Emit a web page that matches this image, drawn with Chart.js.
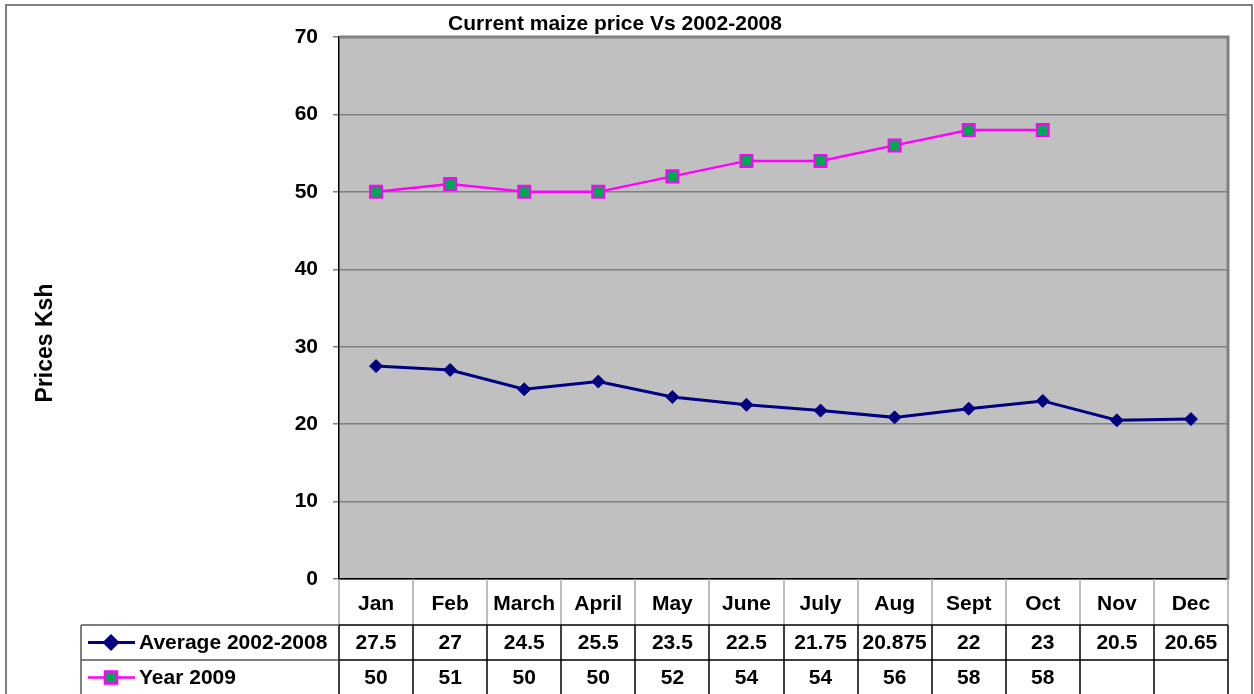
<!DOCTYPE html>
<html>
<head>
<meta charset="utf-8">
<title>Current maize price Vs 2002-2008</title>
<script src="https://cdn.jsdelivr.net/npm/chart.js@4/dist/chart.umd.min.js"></script>
<style>
  html, body { margin: 0; padding: 0; background: #fff; }
  canvas { display: block; }
</style>
</head>
<body>
<canvas id="maizeChart" width="1254" height="694"></canvas>
<script>
// data
const months = ['Jan', 'Feb', 'March', 'April', 'May', 'June', 'July', 'Aug', 'Sept', 'Oct', 'Nov', 'Dec'];
const avg0208 = [27.5, 27, 24.5, 25.5, 23.5, 22.5, 21.75, 20.875, 22, 23, 20.5, 20.65];
const year2009 = [50, 51, 50, 50, 52, 54, 54, 56, 58, 58, null, null];
const seriesNames = ['Average 2002-2008', 'Year 2009'];
const yMin = 0, yMax = 70, yStep = 10;

const chartTitle = 'Current maize price Vs 2002-2008';
const yTitle = 'Prices Ksh';

const FONT = '"Liberation Sans", Arial, sans-serif';
const NAVY = '#000080';
const MAGENTA = '#FF00FF';
const GREEN = '#00A651';

const seriesStyles = [
  { pointStyle: 'rectRot', radius: 6.5, borderWidth: 1, line: NAVY, fill: NAVY, stroke: NAVY, lineWidth: 3 },
  { pointStyle: 'rect', radius: 8.5, borderWidth: 2, line: MAGENTA, fill: GREEN, stroke: MAGENTA, lineWidth: 2.5 }
];

const tablePlugin = {
  id: 'dataTable',
  beforeDraw(chart) {
    const { ctx, chartArea: a } = chart;
    ctx.save();
    ctx.fillStyle = '#fff';
    ctx.fillRect(0, 0, chart.width, chart.height);
    // outer frame
    ctx.strokeStyle = '#808080';
    ctx.lineWidth = 2;
    ctx.strokeRect(6, 5, 1246, 700);
    // plot background
    ctx.fillStyle = '#C0C0C0';
    ctx.fillRect(a.left, a.top, a.right - a.left, a.bottom - a.top);
    ctx.restore();
  },
  beforeDatasetsDraw(chart) {
    const { ctx, chartArea: a } = chart;
    ctx.save();
    ctx.strokeStyle = '#808080';
    ctx.lineWidth = 3;
    ctx.beginPath();
    ctx.moveTo(a.left, a.top);
    ctx.lineTo(a.right, a.top);
    ctx.lineTo(a.right, a.bottom);
    ctx.stroke();
    ctx.restore();
  },
  afterDraw(chart) {
    const { ctx, chartArea: a } = chart;
    const xs = chart.scales.x;
    const colW = (a.right - a.left) / months.length;
    const headTop = a.bottom;
    const rowTop = xs.bottom;
    const rowH = 35;
    const legLeft = 81;

    ctx.save();
    // header row separators (light)
    ctx.strokeStyle = '#A8A8A8';
    ctx.lineWidth = 1.5;
    for (let i = 0; i <= months.length; i++) {
      const x = Math.round(a.left + i * colW);
      ctx.beginPath();
      ctx.moveTo(x, headTop);
      ctx.lineTo(x, rowTop);
      ctx.stroke();
    }
    // data rows grid
    ctx.strokeStyle = '#000';
    ctx.lineWidth = 1.5;
    for (let i = 0; i <= months.length; i++) {
      const x = Math.round(a.left + i * colW);
      ctx.beginPath();
      ctx.moveTo(x, rowTop);
      ctx.lineTo(x, rowTop + rowH * 2);
      ctx.stroke();
    }
    for (let r = 0; r <= 1; r++) {
      const y = rowTop + r * rowH;
      ctx.strokeStyle = '#000';
      ctx.beginPath();
      ctx.moveTo(a.left, y);
      ctx.lineTo(a.right, y);
      ctx.stroke();
      ctx.strokeStyle = '#555';
      ctx.beginPath();
      ctx.moveTo(legLeft, y);
      ctx.lineTo(a.left, y);
      ctx.stroke();
    }
    ctx.strokeStyle = '#555';
    ctx.beginPath();
    ctx.moveTo(legLeft, rowTop);
    ctx.lineTo(legLeft, rowTop + rowH * 2);
    ctx.stroke();

    // values
    ctx.fillStyle = '#000';
    ctx.font = 'bold 21px ' + FONT;
    ctx.textBaseline = 'middle';
    ctx.textAlign = 'center';
    chart.data.datasets.forEach((ds, r) => {
      const cy = rowTop + r * rowH + rowH / 2 + 1;
      ds.data.forEach((v, i) => {
        if (v === null) return;
        ctx.fillText(String(v), xs.getPixelForValue(i), cy);
      });
    });

    // legend keys and names
    seriesNames.forEach((name, r) => {
      const st = seriesStyles[r];
      const cy = rowTop + r * rowH + rowH / 2;
      ctx.strokeStyle = st.line;
      ctx.lineWidth = st.lineWidth;
      ctx.beginPath();
      ctx.moveTo(88, cy);
      ctx.lineTo(135, cy);
      ctx.stroke();
      ctx.fillStyle = st.fill;
      ctx.strokeStyle = st.stroke;
      Chart.helpers.drawPoint(ctx, { pointStyle: st.pointStyle, radius: st.radius, borderWidth: st.borderWidth, rotation: 0 }, 111, cy);
      ctx.fillStyle = '#000';
      ctx.textAlign = 'left';
      ctx.fillText(name, 139, cy + 1);
    });

    // chart title
    ctx.textAlign = 'center';
    ctx.font = 'bold 21px ' + FONT;
    ctx.fillText(chartTitle, 615, 24);

    // y axis title
    ctx.save();
    ctx.translate(46, 343);
    ctx.rotate(-Math.PI / 2);
    ctx.font = 'bold 23px ' + FONT;
    ctx.fillText(yTitle, 0, 0);
    ctx.restore();
    ctx.restore();
  }
};

const datasets = [avg0208, year2009].map((vals, i) => {
  const st = seriesStyles[i];
  return {
    label: seriesNames[i],
    data: vals,
    borderColor: st.line,
    borderWidth: st.lineWidth,
    pointStyle: st.pointStyle,
    pointRadius: st.radius,
    pointHoverRadius: st.radius,
    pointBackgroundColor: st.fill,
    pointBorderColor: st.stroke,
    pointBorderWidth: st.borderWidth,
    tension: 0,
    fill: false
  };
});

new Chart(document.getElementById('maizeChart'), {
  type: 'line',
  data: { labels: months, datasets: datasets },
  plugins: [tablePlugin],
  options: {
    responsive: false,
    animation: false,
    layout: { padding: { left: 6, top: 37, right: 26, bottom: 69 } },
    plugins: { legend: { display: false }, title: { display: false }, tooltip: { enabled: false } },
    scales: {
      x: {
        offset: true,
        grid: { display: false },
        border: { display: true, color: '#000', width: 1.5 },
        ticks: { color: '#000', font: { family: FONT, size: 21, weight: 'bold' }, padding: 5, autoSkip: false, maxRotation: 0 },
        afterFit(s) { s.height = 46; }
      },
      y: {
        min: yMin,
        max: yMax,
        ticks: { stepSize: yStep, color: '#000', font: { family: FONT, size: 21, weight: 'bold' }, padding: 15 },
        grid: { color: '#808080', lineWidth: 1.5, tickLength: 6, tickColor: '#808080' },
        border: { color: '#000', width: 1.5 },
        afterFit(s) { s.width = 333; }
      }
    }
  }
});
</script>
</body>
</html>
